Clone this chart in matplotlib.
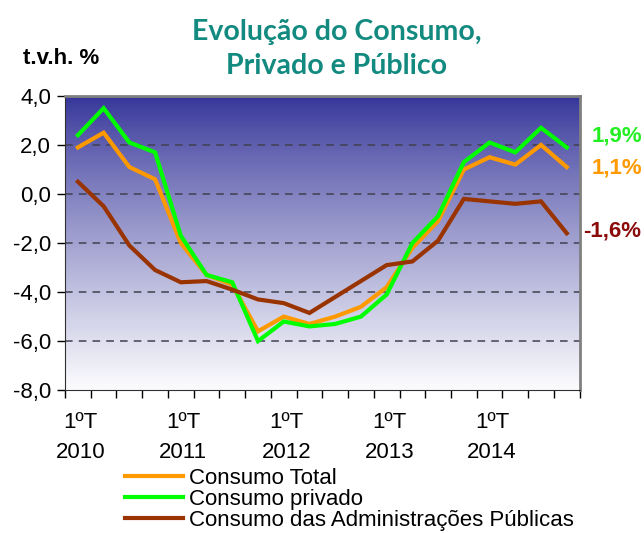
import numpy as np
import matplotlib
matplotlib.use('Agg')
import matplotlib.pyplot as plt

plt.rcParams['font.family'] = ['Liberation Sans', 'DejaVu Sans']

# dados trimestrais, t.v.h. %, 1ºT 2010 a 4ºT 2014
total = [1.9, 2.5, 1.1, 0.6, -2.0, -3.3, -3.7, -5.6, -5.0, -5.3,
         -5.0, -4.6, -3.8, -2.2, -1.1, 1.0, 1.5, 1.2, 2.0, 1.1]
privado = [2.4, 3.5, 2.1, 1.7, -1.7, -3.3, -3.6, -6.0, -5.2, -5.4,
           -5.3, -5.0, -4.1, -2.0, -0.9, 1.3, 2.1, 1.7, 2.7, 1.9]
publico = [0.5, -0.5, -2.1, -3.1, -3.6, -3.55, -3.9, -4.3, -4.45, -4.85,
           -4.2, -3.55, -2.9, -2.75, -1.9, -0.2, -0.3, -0.4, -0.3, -1.6]
anos = ['2010', '2011', '2012', '2013', '2014']
y_ticks = [4.0, 2.0, 0.0, -2.0, -4.0, -6.0, -8.0]

series = [
    (total, 'Consumo Total', '#FF9900'),
    (privado, 'Consumo privado', '#00FF00'),
    (publico, 'Consumo das Administrações Públicas', '#993300'),
]
x = np.arange(len(total))

fig = plt.figure(figsize=(6.44, 5.33), dpi=100)
ax = fig.add_axes([0.101, 0.268, 0.799, 0.552])

# fundo em degradê (azul escuro -> branco)
grad = np.linspace(0, 1, 256).reshape(-1, 1)
top = np.array([0x33, 0x33, 0x99]) / 255
bot = np.array([0xFC, 0xFC, 0xFE]) / 255
img = top + (bot - top) * grad[..., None] ** 0.85
ax.imshow(img, extent=[-0.5, len(x) - 0.5, -8, 4], aspect='auto', zorder=0)

for v in [2, 0, -2, -4, -6]:
    ax.axhline(v, color='#404050', lw=1.1, ls=(0, (5, 4)), zorder=1)

handles = []
for vals, lab, col in series:
    h, = ax.plot(x, vals, color=col, lw=3, label=lab, zorder=3,
                 solid_joinstyle='miter')
    handles.append(h)

ax.set_xlim(-0.5, len(x) - 0.5)
ax.set_ylim(-8, 4)
ax.set_yticks(y_ticks)
ax.set_yticklabels([f'{v:.1f}'.replace('.', ',') for v in y_ticks], fontsize=16)
ax.set_xticks(np.arange(-0.5, len(x), 1))
ax.set_xticklabels([])
ax.tick_params(axis='x', length=6, width=1, direction='out')
ax.tick_params(axis='y', length=6, width=1, direction='out', pad=4)
for i, a in enumerate(anos):
    ax.text(i * 4 + 0.1, -8.9, '1ºT\n' + a, ha='center', va='top', fontsize=16,
            linespacing=1.55, transform=ax.transData)

for s in ['top', 'right']:
    ax.spines[s].set_color('#808080')
    ax.spines[s].set_linewidth(2)
ax.spines['left'].set_color('#303030')
ax.spines['bottom'].set_color('#303030')

fig.text(0.523, 0.965, 'Evolução do Consumo,\nPrivado e Público', ha='center',
         va='top', fontsize=20.5, fontweight='bold', color='#138A80',
         family=['Lato', 'DejaVu Sans'], linespacing=1.42)
fig.text(0.035, 0.89, 't.v.h. %', fontsize=16, fontweight='bold', va='center')

fig.text(0.918, 0.745, '1,9%', color='#22EE22', fontsize=16, fontweight='bold', va='center')
fig.text(0.918, 0.684, '1,1%', color='#FF9900', fontsize=16, fontweight='bold', va='center')
fig.text(0.905, 0.567, '-1,6%', color='#8B0A0A', fontsize=16, fontweight='bold', va='center')

fig.legend(handles=handles, loc='upper left', bbox_to_anchor=(0.194, 0.122),
           frameon=False, fontsize=16, handlelength=2.6, handletextpad=0.3,
           labelspacing=0.0, borderpad=0, borderaxespad=0)

fig.savefig('out.png', dpi=100)
